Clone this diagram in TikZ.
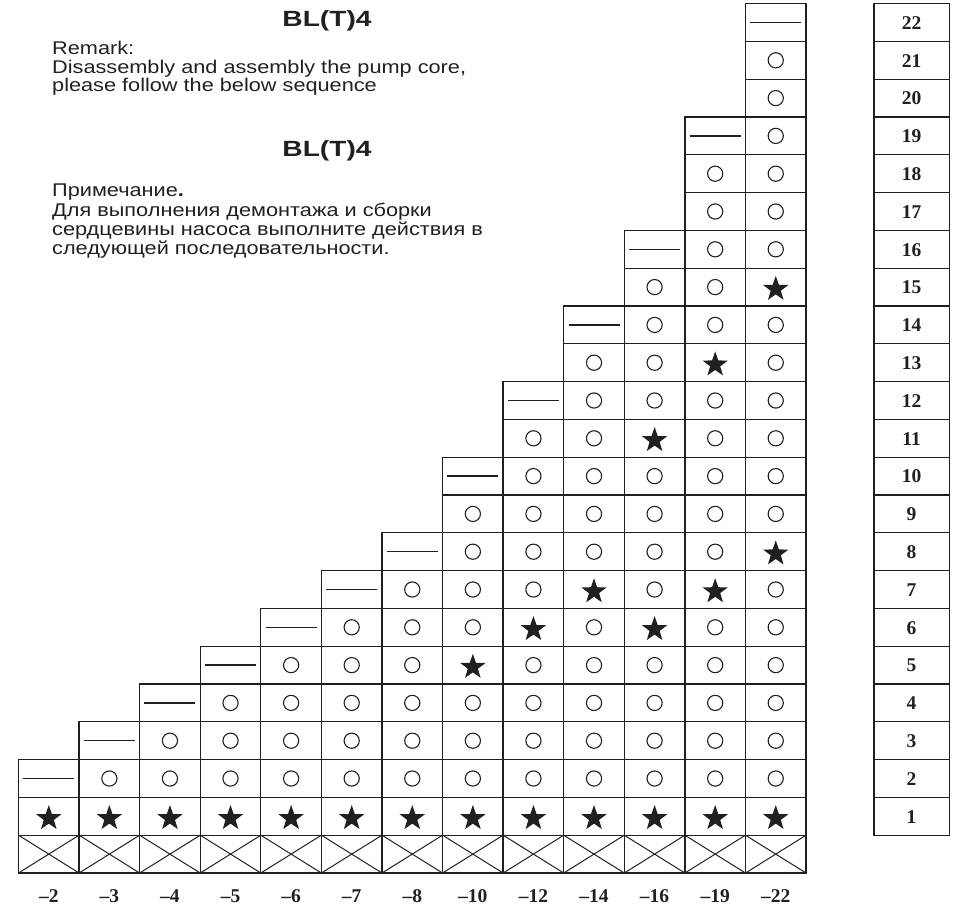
\documentclass[tikz,border=0pt]{standalone}
\usepackage{fontspec}
\setmainfont{Liberation Serif}
\newfontfamily\bodyfont[FakeStretch=1.18]{Liberation Sans}
\newfontfamily\titlefont[FakeStretch=1.28]{Liberation Sans}
\usetikzlibrary{shapes.geometric}
\definecolor{ink}{RGB}{35,31,32}
\tikzset{
  gridline/.style={draw=ink, line width=1.3pt},
  crossline/.style={draw=ink, line width=1pt},
  ringmark/.style={draw=ink, line width=1.1pt},
  dashmark/.style={draw=ink, line width=1.3pt},
  starmark/.style={star, star points=5, star point ratio=2.5, fill=ink, draw=none, minimum size=26.5pt, inner sep=0pt, outer sep=0pt},
  numlabel/.style={font=\bfseries\fontsize{19.5}{19.5}\selectfont, text=ink, inner sep=0pt, anchor=base},
  bodytext/.style={font=\bodyfont\fontsize{18.4}{18.4}\selectfont, text=ink, inner sep=0pt, anchor=base west},
  titletext/.style={font=\titlefont\bfseries\fontsize{22}{22}\selectfont, text=ink, inner sep=0pt, anchor=base},
}
\foreach \a/\b in {10/5,12/6,14/7,16/6,16/11,19/7,19/13,22/8,22/15}{\expandafter\xdef\csname st-\a-\b\endcsname{}}
\begin{document}
\begin{tikzpicture}[x=1pt,y=-1pt]
\useasboundingbox (0,0) rectangle (955,908);
% texts
\node[titletext] (t1) at (327,26) {BL(T)4};
\node[bodytext] (e1) at (52,54) {Remark:};
\node[bodytext] (e2) at (52,73) {Disassembly and assembly the pump core,};
\node[bodytext] (e3) at (52,91.5) {please follow the below sequence};
\node[titletext] (t2) at (327,156) {BL(T)4};
\node[bodytext] (r1) at (52,196.5) {Примечание\textbf{.}};
\node[bodytext] (r2) at (52,216) {Для выполнения демонтажа и сборки};
\node[bodytext] (r3) at (52,235.5) {сердцевины насоса выполните действия в};
\node[bodytext] (r4) at (52,254.5) {следующей последовательности.};
% grid
\def\cw{60.58}\def\rh{37.8}\def\xo{18.5}\def\yb{873}
\foreach \n [count=\j from 0] in {2,3,4,5,6,7,8,10,12,14,16,19,22}{
  \pgfmathsetmacro\xl{\xo+\cw*\j}
  \pgfmathsetmacro\xr{\xl+\cw}
  \pgfmathsetmacro\xc{\xl+\cw/2}
  % crossed cell
  \pgfmathsetmacro\yt{\yb-\rh}
  \draw[crossline] (\xl,\yt) -- (\xr,\yb) (\xl,\yb) -- (\xr,\yt);
  \draw[gridline] (\xl,\yt) rectangle (\xr,\yb);
  \node[numlabel] (lab\j) at (\xc,902.5) {–\n};
  \foreach \r in {1,...,\n}{
    \pgfmathsetmacro\ytop{\yb-\rh*(\r+1)}
    \pgfmathsetmacro\ybot{\yb-\rh*\r}
    \pgfmathsetmacro\yc{\yb-\rh*(\r+0.5)}
    \draw[gridline] (\xl,\ytop) rectangle (\xr,\ybot);
    \ifnum\r=1
      \node[starmark] at (\xc,\yc+2) {};
    \else\ifnum\r=\n
      \draw[dashmark] (\xc-25.5,\yc) -- (\xc+25.5,\yc);
    \else\ifcsname st-\n-\r\endcsname
      \node[starmark] at (\xc,\yc+2) {};
    \else
      \draw[ringmark] (\xc,\yc) circle[radius=7.6pt];
    \fi\fi\fi
  }
}
% number column
\foreach \r in {1,...,22}{
  \pgfmathsetmacro\ytop{\yb-\rh*(\r+1)}
  \pgfmathsetmacro\ybot{\yb-\rh*\r}
  \pgfmathsetmacro\yc{\yb-\rh*(\r+0.5)}
  \draw[gridline] (874,\ytop) rectangle (949.3,\ybot);
  \node[numlabel] (num\r) at (911.6,\yc+6.7) {\r};
}
\end{tikzpicture}
\end{document}
